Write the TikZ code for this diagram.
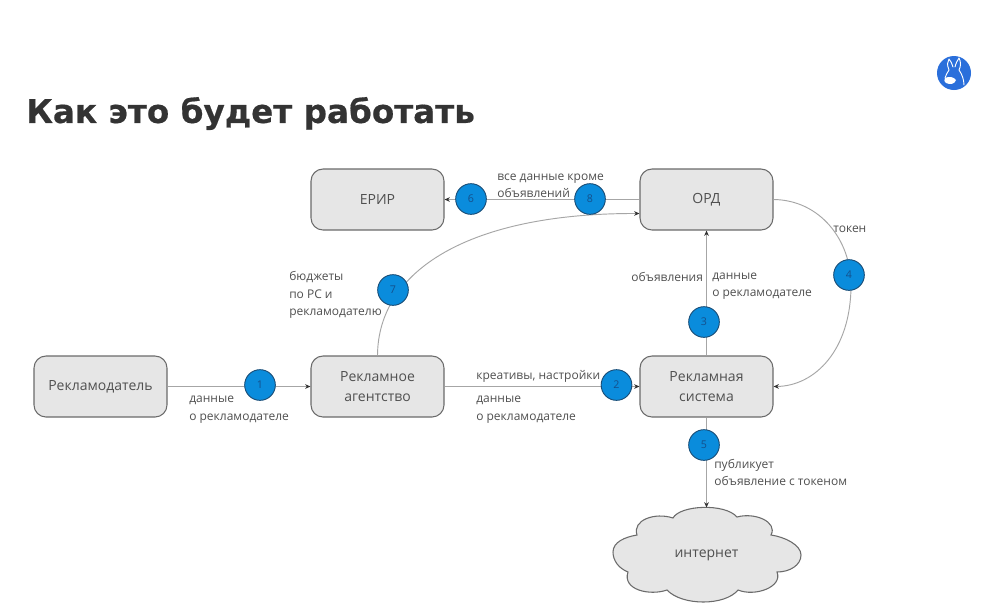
\documentclass[tikz,border=0pt]{standalone}
\usepackage{fontspec}
\setmainfont{Open Sans}
\newfontfamily\titlefont[BoldFeatures={FakeBold=0.5}]{DejaVu Sans}
\usetikzlibrary{arrows.meta}
\definecolor{boxfill}{HTML}{E6E6E6}
\definecolor{boxline}{HTML}{6B6B6B}
\definecolor{conn}{HTML}{A6A6A6}
\definecolor{tip}{HTML}{333333}
\definecolor{txt}{HTML}{505050}
\definecolor{badge}{HTML}{0A8CDC}
\definecolor{badgeline}{HTML}{1A4E78}
\definecolor{numc}{HTML}{14508C}
\definecolor{icon}{HTML}{2A6FDB}
\tikzset{
  x=0.75pt,y=-0.75pt,
  flowbox/.style={draw=boxline,fill=boxfill,rounded corners=9pt,line width=0.8pt,minimum width=99.75pt,minimum height=45.75pt,inner sep=0pt,align=center,text=txt,font=\fontsize{10.5}{14.5}\selectfont},
  numdot/.style={circle,draw=badgeline,fill=badge,line width=0.7pt,minimum size=23pt,inner sep=0pt,text=numc,font=\fontsize{8}{10}\selectfont},
  lab/.style={anchor=west,align=left,inner sep=0pt,text=txt,font=\fontsize{9}{13}\selectfont},
  link/.style={draw=conn,line width=0.7pt,-{Stealth[length=4pt,width=3.5pt,color=tip]}},
}
\begin{document}
\begin{tikzpicture}
\useasboundingbox (0,0) rectangle (996,615);
\fill[white] (0,0) rectangle (996,615);
% title
\node[anchor=west,inner sep=0pt,text=black!80] (title) at (26,113.5) {\titlefont\bfseries\fontsize{24.5}{30}\selectfont Как это будет работать};
% icon
\fill[icon] (954,73) circle (17);
\draw[white,line width=0.7pt,line join=round,line cap=round]
  (949,70) .. controls (947,65) and (947,62) .. (949,59) .. controls (951,61) and (952,64) .. (953,67)
  (955,67) .. controls (956,63) and (957,61) .. (959,58) .. controls (961,62) and (961,66) .. (959,70)
  (949,70) .. controls (947,73) and (946,75) .. (945,78)
  (959,70) .. controls (962,74) and (964,80) .. (964,85);
\fill[white] (945,78) .. controls (949,76) and (954,77) .. (956,80) .. controls (955,84) and (950,85) .. (946,83) .. controls (944,82) and (944,80) .. (945,78) -- cycle;
% boxes
\node[flowbox] (adv) at (100.5,386.5) {\raisebox{1pt}{Рекламодатель}};
\node[flowbox] (agency) at (377.5,386.5) {Рекламное\\агентство};
\node[flowbox] (system) at (706.5,386.5) {Рекламная\\система};
\node[flowbox] (erir) at (377.5,199.5) {ЕРИР};
\node[flowbox] (ord) at (706.5,199.5) {ОРД};
% cloud
\draw[draw=boxline,fill=boxfill,line width=0.8pt] (613,552)
  .. controls (613,542) and (625,537) .. (637,535)
  .. controls (632,520) and (655,512) .. (673,518)
  .. controls (680,505) and (725,503) .. (737,517)
  .. controls (755,512) and (778,522) .. (771,535)
  .. controls (785,537) and (801,545) .. (801,555)
  .. controls (801,565) and (790,572) .. (777,572)
  .. controls (783,587) and (755,597) .. (738,590)
  .. controls (725,606) and (682,606) .. (667,590)
  .. controls (650,596) and (622,590) .. (628,572)
  .. controls (618,568) and (613,560) .. (613,552) -- cycle;
\node[text=txt,inner sep=0pt,font=\fontsize{10.5}{14}\selectfont] (net) at (706.5,555.5) {интернет};
\coordinate (nettop) at (706.5,507.5);
% connectors
\draw[link] (adv) -- (agency);
\draw[link] (agency) -- (system);
\draw[link] (system.north) -- (ord.south);
\draw[link] (ord.west) -- (erir.east);
\draw[link] (agency.north) .. controls (378,270) and (470,213) .. ([yshift=-10.5pt]ord.west);
\coordinate (bend4) at (851,285);
\draw[draw=conn,line width=0.7pt] (ord.east) .. controls (820,200) and (851,240) .. (bend4);
\draw[link] (bend4) .. controls (851,350) and (815,386) .. (system.east);
\draw[link] (system.south) -- (nettop);
% badges
\node[numdot] (n1) at (260,385) {1};
\node[numdot] (n2) at (616.5,385) {2};
\node[numdot] (n3) at (704,322) {3};
\node[numdot] (n4) at (849,275) {4};
\node[numdot] (n5) at (704,445) {5};
\node[numdot] (n6) at (471,199) {6};
\node[numdot] (n7) at (393,290) {7};
\node[numdot] (n8) at (590,199) {8};
% labels
\node[lab] (l1) at (189,409.5) {данные\\о рекламодателе};
\node[lab] (l2a) at (476,376) {креативы, настройки};
\node[lab] (l2b) at (476,409.5) {данные\\о рекламодателе};
\node[lab] (l7) at (289,295) {бюджеты\\по РС и\\рекламодателю};
\node[lab] (l6) at (497,185.5) {все данные кроме\\объявлений};
\node[lab] (l3a) at (631,277) {объявления};
\node[lab] (l3b) at (712,286) {данные\\о рекламодателе};
\node[lab] (l4) at (833,229) {токен};
\node[lab] (l5) at (714,472.5) {публикует\\объявление с токеном};
\end{tikzpicture}
\end{document}
